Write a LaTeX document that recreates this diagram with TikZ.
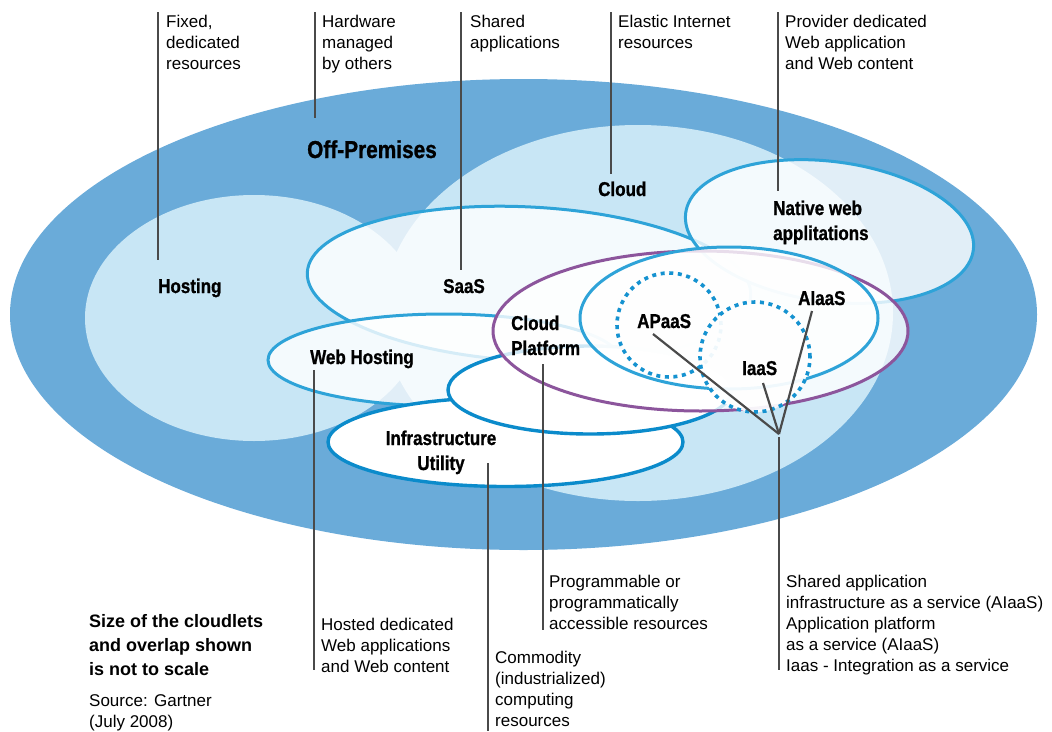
\documentclass[tikz,border=0pt]{standalone}
\usepackage{fontspec}
\setmainfont{Liberation Sans}
\newfontfamily\labfont{Liberation Sans}[FakeStretch=0.85, FakeBold=1]
\newcommand\txtstack[2][l]{\begin{tabular}[t]{@{}#1@{}}#2\end{tabular}}
\definecolor{outerblue}{HTML}{6AABD9}
\definecolor{cloudblue}{HTML}{C8E6F5}
\definecolor{ellblue}{HTML}{2EA3D8}
\definecolor{deepblue}{HTML}{0B8BCB}
\definecolor{dotblue}{HTML}{1592D0}
\definecolor{platpurple}{HTML}{8C559C}
\definecolor{leadgray}{HTML}{4A4A4A}
\tikzset{
  bubble/.style={fill=white, fill opacity=0.8, draw=ellblue, line width=3pt},
  solidbubble/.style={fill=white, draw=deepblue, line width=3.4pt},
  purplebubble/.style={fill=white, fill opacity=0.8, draw=platpurple, line width=3pt},
  dotbubble/.style={fill=white, fill opacity=#1, draw=dotblue, line width=3.6pt, dash pattern=on 4pt off 4.6pt},
  leader/.style={draw=leadgray, line width=2.6pt},
  thinleader/.style={draw=leadgray, line width=2.2pt},
  lab/.style={font={\labfont\bfseries\fontsize{20}{25}\selectfont}, inner sep=0pt},
  biglab/.style={font={\labfont\bfseries\fontsize{24.5}{29}\selectfont}, inner sep=0pt},
  body/.style={font={\fontsize{17}{21}\selectfont}, inner sep=0pt},
  note/.style={font={\bfseries\fontsize{18}{24}\selectfont}, inner sep=0pt},
}
\begin{document}
\begin{tikzpicture}[x=1pt,y=-1pt]
\useasboundingbox (0,0) rectangle (1052,731);

% outer off-premises ellipse
\fill[outerblue] (523.5,314.5) ellipse [x radius=513.5pt, y radius=235.5pt];
% cloud lobes
\fill[cloudblue] (254,318) ellipse [x radius=169pt, y radius=123pt];
\fill[cloudblue] (638,313) ellipse [x radius=255pt, y radius=188pt];

% SaaS
\draw[bubble, rotate around={-3:(529,284)}] (529,284) ellipse [x radius=222pt, y radius=77pt];
% Native web applications
\draw[bubble, rotate around={-7.3:(829.5,231.5)}] (829.5,231.5) ellipse [x radius=145pt, y radius=70pt];
% Web Hosting
\draw[bubble] (444,360) ellipse [x radius=176pt, y radius=46pt];
% Infrastructure Utility
\draw[solidbubble] (505.5,442) ellipse [x radius=177.5pt, y radius=44.5pt];
% unlabeled white ellipse
\draw[solidbubble] (590,390) ellipse [x radius=142pt, y radius=44pt];
% Cloud Platform
\draw[purplebubble] (700.5,331) ellipse [x radius=207.5pt, y radius=80pt];
% AIaaS container
\draw[bubble] (729,318) ellipse [x radius=149pt, y radius=71pt];
% APaaS and IaaS
\draw[dotbubble=0.8] (669,325) circle [radius=52pt];
\draw[dotbubble=0.93] (755,357) circle [radius=55pt];

% labels
\node[biglab, anchor=base west] (offprem) at (307,158) {Off-Premises};
\node[lab, anchor=base west] (hosting) at (158,293) {Hosting};
\node[lab, anchor=base west] (saas) at (443,293) {SaaS};
\node[lab, anchor=base west] (cloud) at (598,196) {Cloud};
\node[lab, anchor=base west] (native) at (773,215) {\txtstack{Native web\\applitations}};
\node[lab, anchor=base west] (webhost) at (310,364) {Web Hosting};
\node[lab, anchor=base west] (platform) at (511,330) {\txtstack{Cloud\\Platform}};
\node[lab, anchor=base west] (apaas) at (637,328) {APaaS};
\node[lab, anchor=base west] (aiaas) at (798,305) {AIaaS};
\node[lab, anchor=base west] (iaas) at (742,375) {IaaS};
\node[lab, anchor=base] (infra) at (441,445) {\txtstack[c]{Infrastructure\\Utility}};

% descriptive texts
\node[body, anchor=base west] (t1) at (166,27) {\txtstack{Fixed,\\dedicated\\resources}};
\node[body, anchor=base west] (t2) at (322,27) {\txtstack{Hardware\\managed\\by others}};
\node[body, anchor=base west] (t3) at (470,27) {\txtstack{Shared\\applications}};
\node[body, anchor=base west] (t4) at (618,27) {\txtstack{Elastic Internet\\resources}};
\node[body, anchor=base west] (t5) at (785,27) {\txtstack{Provider dedicated\\Web application\\and Web content}};
\node[body, anchor=base west] (b1) at (321,630) {\txtstack{Hosted dedicated\\Web applications\\and Web content}};
\node[body, anchor=base west] (b2) at (495,663) {\txtstack{Commodity\\(industrialized)\\computing\\resources}};
\node[body, anchor=base west] (b3) at (549,587) {\txtstack{Programmable or\\programmatically\\accessible resources}};
\node[body, anchor=base west] (b4) at (786,587) {\txtstack{Shared application\\infrastructure as a service (AIaaS)\\Application platform\\as a service (AIaaS)\\Iaas - Integration as a service}};
\node[note, anchor=base west] (scale) at (89,627) {\txtstack{Size of the cloudlets\\and overlap shown\\is not to scale}};
\node[body, anchor=base west] (src) at (89,706) {\txtstack{Source: Gartner\\(July 2008)}};

% leader lines
\coordinate (h1) at (158,12);  \coordinate (h2) at (158,260);
\coordinate (o1) at (315,12);  \coordinate (o2) at (315,118);
\coordinate (s1) at (461,12);  \coordinate (s2) at (461,270);
\coordinate (c1) at (611,12);  \coordinate (c2) at (611,174);
\coordinate (n1) at (778,12);  \coordinate (n2) at (778,191);
\coordinate (w1) at (314,370); \coordinate (w2) at (314,670);
\coordinate (i1) at (488,463); \coordinate (i2) at (488,731);
\coordinate (p1) at (543,364); \coordinate (p2) at (543,630);
\coordinate (J) at (779,434);
\coordinate (jv1) at (779,437); \coordinate (jv2) at (779,670);
\coordinate (ap) at (653,334); \coordinate (ia) at (763,383); \coordinate (ai) at (812,311);

\draw[leader] (h1) -- (h2);
\draw[leader] (o1) -- (o2);
\draw[leader] (s1) -- (s2);
\draw[leader] (c1) -- (c2);
\draw[leader] (n1) -- (n2);
\draw[leader] (w1) -- (w2);
\draw[leader] (i1) -- (i2);
\draw[leader] (p1) -- (p2);
\draw[leader] (jv1) -- (jv2);
\draw[thinleader] (ap) -- (J);
\draw[thinleader] (ia) -- (J);
\draw[thinleader] (ai) -- (J);
\end{tikzpicture}
\end{document}
